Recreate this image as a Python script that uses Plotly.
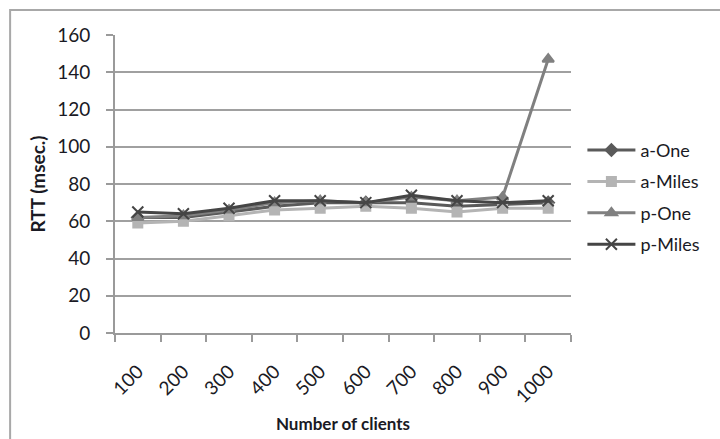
import plotly.graph_objects as go

clients = ["100", "200", "300", "400", "500", "600", "700", "800", "900", "1000"]
a_one = [62, 62, 65, 68, 70, 70, 70, 68, 69, 70]
a_miles = [59, 60, 63, 66, 67, 68, 67, 65, 67, 67]
p_one = [62, 63, 66, 70, 71, 70, 73, 71, 73, 147]
p_miles = [65, 64, 67, 71, 71, 70, 74, 71, 70, 71]

y_ticks = [0, 20, 40, 60, 80, 100, 120, 140, 160]

series = [
    ("a-One", a_one, "#5a5a5a", "diamond", 9),
    ("a-Miles", a_miles, "#b4b4b4", "square", 9),
    ("p-One", p_one, "#808080", "triangle-up", 10),
    ("p-Miles", p_miles, "#454545", "x-thin", 11),
]

fig = go.Figure()
for name, vals, color, symbol, size in series:
    fig.add_trace(go.Scatter(
        x=clients, y=vals, name=name, mode="lines+markers",
        legendgroup=name,
        line=dict(color=color, width=3),
        marker=dict(symbol=symbol, size=size, color=color,
                    line=dict(color=color, width=2)),
    ))

font_family = "Lato, 'Open Sans', sans-serif"
text_color = "#1a1a24"

fig.update_layout(
    width=720, height=439,
    margin=dict(l=115, r=149, t=35, b=106),
    paper_bgcolor="white", plot_bgcolor="white",
    font=dict(family=font_family, size=18, color=text_color),
    showlegend=True,
    legend=dict(x=1.025, y=0.675, xanchor="left", yanchor="top",
                font=dict(size=18, color=text_color),
                tracegroupgap=5, itemwidth=48, bgcolor="rgba(0,0,0,0)"),
    xaxis=dict(
        type="category", range=[-0.5, 9.5], automargin=False,
        showgrid=False, showline=True, linecolor="#9a9a9a", linewidth=2,
        ticks="outside", tickson="boundaries", ticklen=7,
        tickcolor="#9a9a9a", tickwidth=2,
        tickangle=-45, tickfont=dict(size=19), ticklabelstandoff=18,
        title=dict(text="<b>Number of clients</b>", font=dict(size=17), standoff=12),
    ),
    yaxis=dict(
        range=[0, 160], tickvals=y_ticks, automargin=False,
        showgrid=True, gridcolor="#a0a0a0", gridwidth=2,
        showline=True, linecolor="#9a9a9a", linewidth=2,
        ticks="outside", ticklen=7, tickcolor="#9a9a9a", tickwidth=2,
        tickfont=dict(size=19), zeroline=False, ticklabelstandoff=12,
        title=dict(text="<b>RTT (msec.)</b>", font=dict(size=19), standoff=6),
    ),
    shapes=[dict(
        type="rect", xref="paper", yref="paper",
        x0=-0.230, x1=1.6, y0=-0.6, y1=1.084,
        line=dict(color="#a8a8a8", width=2), fillcolor="rgba(0,0,0,0)",
        layer="below",
    )],
)

fig.write_html("out.html")
